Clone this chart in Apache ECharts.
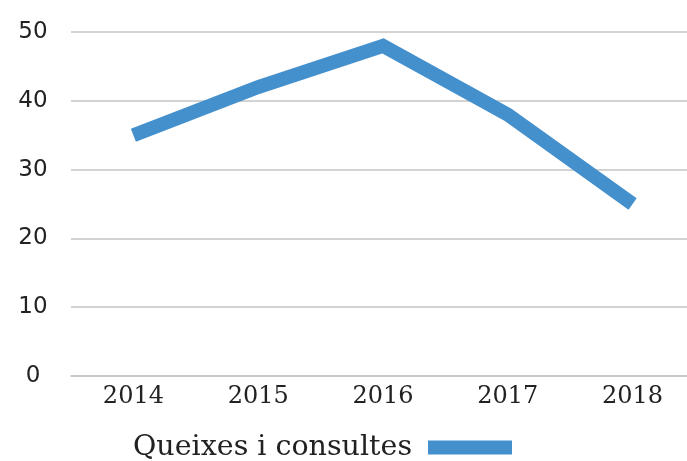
<!DOCTYPE html>
<html>
<head>
<meta charset="utf-8">
<script src="https://cdn.jsdelivr.net/npm/echarts@6/dist/echarts.min.js"></script>
<style>
  html, body { margin: 0; padding: 0; background: #fff; }
  #main { width: 687px; height: 461px; }
</style>
</head>
<body>
<div id="main"></div>
<script>
// dades
var anys = ['2014', '2015', '2016', '2017', '2018'];
var queixes = [35, 42, 48, 38, 25];
var nomSerie = 'Queixes i consultes';

var chart = echarts.init(document.getElementById('main'));
chart.setOption({
  animation: false,
  grid: { left: 71, width: 624, top: 32, bottom: 85, outerBoundsMode: 'none' },
  legend: {
    data: [nomSerie],
    bottom: -6,
    left: 128,
    align: 'right',
    icon: 'rect',
    itemWidth: 84,
    itemHeight: 14,
    itemGap: 10,
    textStyle: { fontFamily: 'DejaVu Serif', fontSize: 28.5, color: '#222', padding: [0, 11, 0, 0] }
  },
  xAxis: {
    type: 'category',
    data: anys,
    axisLine: { lineStyle: { color: '#c4c4c4', width: 1.5 } },
    axisTick: { alignWithLabel: true, inside: true, length: 8, lineStyle: { color: '#c4c4c4', width: 1.5 } },
    axisLabel: { fontFamily: 'DejaVu Serif', fontSize: 24, color: '#222', margin: 9 }
  },
  yAxis: {
    type: 'value',
    min: 0,
    max: 50,
    interval: 10,
    axisLine: { show: false },
    axisTick: { show: false },
    splitLine: { lineStyle: { color: '#c4c4c4', width: 1.5 } },
    axisLabel: { fontFamily: 'DejaVu Sans', fontSize: 23, color: '#222', align: 'center', margin: 38 }
  },
  series: [{
    name: nomSerie,
    type: 'line',
    data: queixes,
    symbol: 'none',
    itemStyle: { color: '#4490cd' },
    lineStyle: { color: '#4490cd', width: 14, cap: 'butt', join: 'miter' }
  }]
});
</script>
</body>
</html>
